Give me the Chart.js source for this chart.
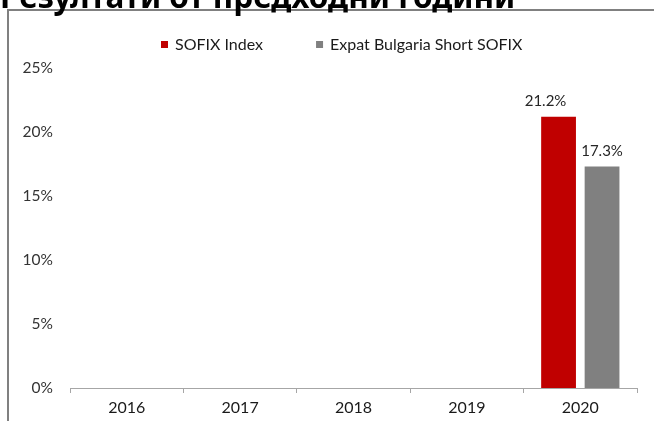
<!DOCTYPE html>
<html lang="bg">
<head>
<meta charset="UTF-8">
<title>Резултати от предходни години</title>
<script src="https://cdn.jsdelivr.net/npm/chart.js"></script>
<style>
  html, body { margin: 0; padding: 0; background: #fff; }
</style>
</head>
<body>
<canvas id="resultsChart" width="654" height="421"></canvas>
<script>
  const chartTitle = 'Резултати от предходни години';
  const years = ['2016', '2017', '2018', '2019', '2020'];
  const sofixIndex = [null, null, null, null, 21.2];
  const expatShortSofix = [null, null, null, null, 17.3];
  const yMax = 25;
  const yStep = 5;

  // frame, cut-off title, legend and value labels
  const decor = {
    id: 'decor',
    beforeDraw(chart) {
      const ctx = chart.ctx;
      ctx.save();
      ctx.strokeStyle = '#808080';
      ctx.lineWidth = 2;
      ctx.beginPath();
      ctx.moveTo(8, 421);
      ctx.lineTo(8, 10);
      ctx.lineTo(654, 10);
      ctx.stroke();

      ctx.fillStyle = '#000';
      ctx.font = 'bold 31.5px "Noto Sans"';
      ctx.textBaseline = 'alphabetic';
      ctx.fillText(chartTitle, 0, 8);

      let x = 161;
      ctx.font = '16px Lato';
      ctx.textBaseline = 'middle';
      chart.data.datasets.forEach(ds => {
        ctx.fillStyle = ds.backgroundColor;
        ctx.fillRect(x, 41, 7, 7);
        ctx.fillStyle = '#1a1a1a';
        ctx.fillText(ds.label, x + 14, 45);
        x += 14 + ctx.measureText(ds.label).width + 53;
      });
      ctx.restore();
    },
    afterDatasetsDraw(chart, args, opts) {
      const ctx = chart.ctx;
      ctx.save();
      ctx.font = '15px Lato';
      ctx.fillStyle = '#262626';
      ctx.textAlign = 'center';
      ctx.textBaseline = 'alphabetic';
      chart.data.datasets.forEach((ds, i) => {
        chart.getDatasetMeta(i).data.forEach((bar, j) => {
          const v = ds.data[j];
          if (v == null) return;
          ctx.fillText(v.toFixed(1) + '%', bar.x + (opts.shift[i] || 0), bar.y - 11);
        });
      });
      ctx.restore();
    }
  };

  new Chart(document.getElementById('resultsChart'), {
    type: 'bar',
    data: {
      labels: years,
      datasets: [
        { label: 'SOFIX Index', data: sofixIndex, backgroundColor: '#C00000' },
        { label: 'Expat Bulgaria Short SOFIX', data: expatShortSofix, backgroundColor: '#808080' }
      ]
    },
    options: {
      responsive: false,
      animation: false,
      layout: { padding: { top: 68, right: 17, left: 0, bottom: 0 } },
      datasets: { bar: { categoryPercentage: 0.767, barPercentage: 0.8 } },
      plugins: {
        legend: { display: false },
        tooltip: { enabled: false },
        decor: { shift: [-13, 0] }
      },
      scales: {
        x: {
          grid: { display: true, drawOnChartArea: false, drawTicks: true, tickLength: 5, color: '#a6a6a6' },
          border: { color: '#a6a6a6', width: 1 },
          ticks: { color: '#1a1a1a', font: { family: 'Lato', size: 16 }, padding: 5 },
          afterFit: s => { s.height = 33; }
        },
        y: {
          min: 0,
          max: yMax,
          ticks: {
            stepSize: yStep,
            color: '#333333',
            font: { family: 'Lato', size: 15.5 },
            padding: 17,
            callback: v => v + '%'
          },
          grid: { display: false, drawTicks: false },
          border: { display: false },
          afterFit: s => { s.width = 70; }
        }
      }
    },
    plugins: [decor]
  });
</script>
</body>
</html>
